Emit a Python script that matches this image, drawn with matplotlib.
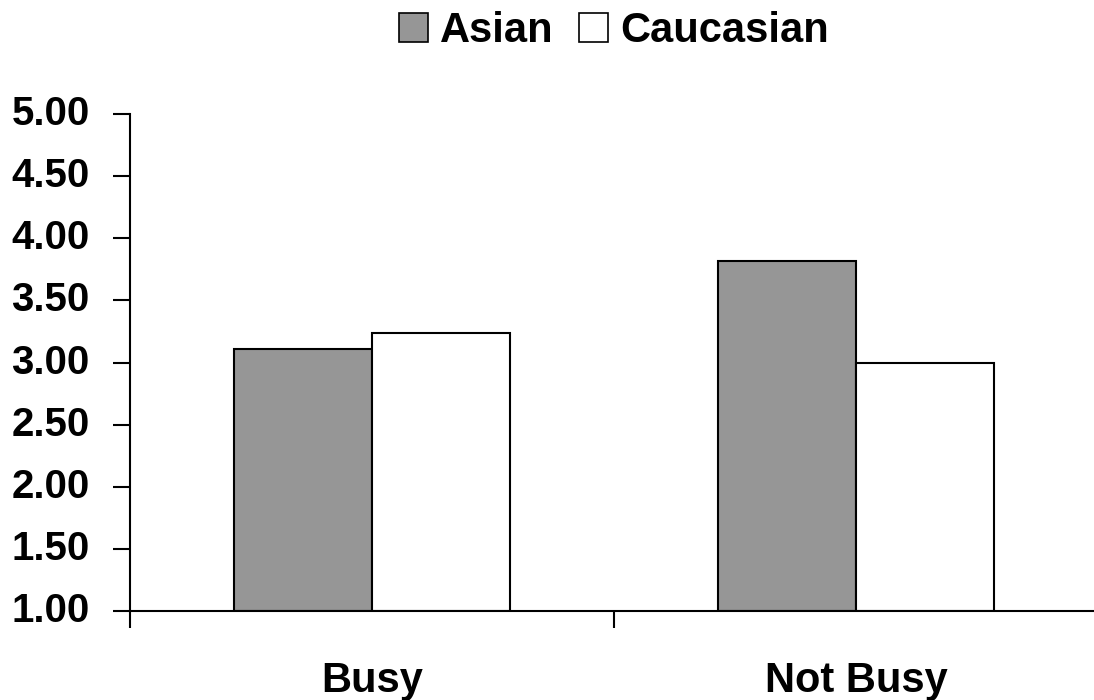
import matplotlib
matplotlib.use("Agg")
import matplotlib.pyplot as plt
from matplotlib.patches import Patch
from matplotlib.transforms import ScaledTranslation
import numpy as np

categories = ["Busy", "Not Busy"]
series_names = ["Asian", "Caucasian"]
asian = [3.11, 3.82]
caucasian = [3.24, 3.00]
y_ticks = [1.0, 1.5, 2.0, 2.5, 3.0, 3.5, 4.0, 4.5, 5.0]

plt.rcParams["font.family"] = ["Liberation Sans", "DejaVu Sans"]
plt.rcParams["font.weight"] = "bold"

fig = plt.figure(figsize=(10.94, 7.0), dpi=100)
ax = fig.add_axes([130 / 1094, 89 / 700, 968 / 1094, 497 / 700])

x = np.arange(len(categories))
w = 0.285
colors = ["#969696", "#ffffff"]
for i, vals in enumerate([asian, caucasian]):
    ax.bar(x + (i - 0.5) * w, [v - 1.0 for v in vals], width=w, bottom=1.0,
           color=colors[i], edgecolor="black", linewidth=1.5, zorder=2)

ax.set_xlim(-0.5, 1.5)
ax.set_ylim(1.0, 5.0)
ax.set_yticks(y_ticks)
ax.set_yticklabels([f"{t:.2f}" for t in y_ticks], fontsize=29, fontweight="bold")
ax.set_xticks([-0.5, 0.5, 1.5])
ax.set_xticklabels([])
ax.tick_params(axis="both", direction="out", length=12, width=1.5, color="black")
ax.tick_params(axis="y", pad=17)

# nudge the value labels slightly upward relative to their ticks
shift = ScaledTranslation(0, 4 / 100, fig.dpi_scale_trans)
for lab in ax.get_yticklabels():
    lab.set_transform(lab.get_transform() + shift)

for xi, lab in zip(x, categories):
    ax.text(xi, -0.1, lab, transform=ax.get_xaxis_transform(), ha="center", va="top",
            fontsize=30, fontweight="bold")

for s in ["top", "right"]:
    ax.spines[s].set_visible(False)
for s in ["left", "bottom"]:
    ax.spines[s].set_linewidth(1.5)
ax.spines["left"].set_bounds(1.0, 5.0)

handles = [Patch(facecolor=c, edgecolor="black", linewidth=1.2, label=n)
           for c, n in zip(colors, series_names)]
fig.legend(handles=handles, loc="center", bbox_to_anchor=(614 / 1094, 1 - 31 / 700),
           ncol=2, frameon=False, prop={"weight": "bold", "size": 30},
           handlelength=0.7, handleheight=0.7, handletextpad=0.3, columnspacing=0.6)

fig.savefig("out.png", dpi=100)
